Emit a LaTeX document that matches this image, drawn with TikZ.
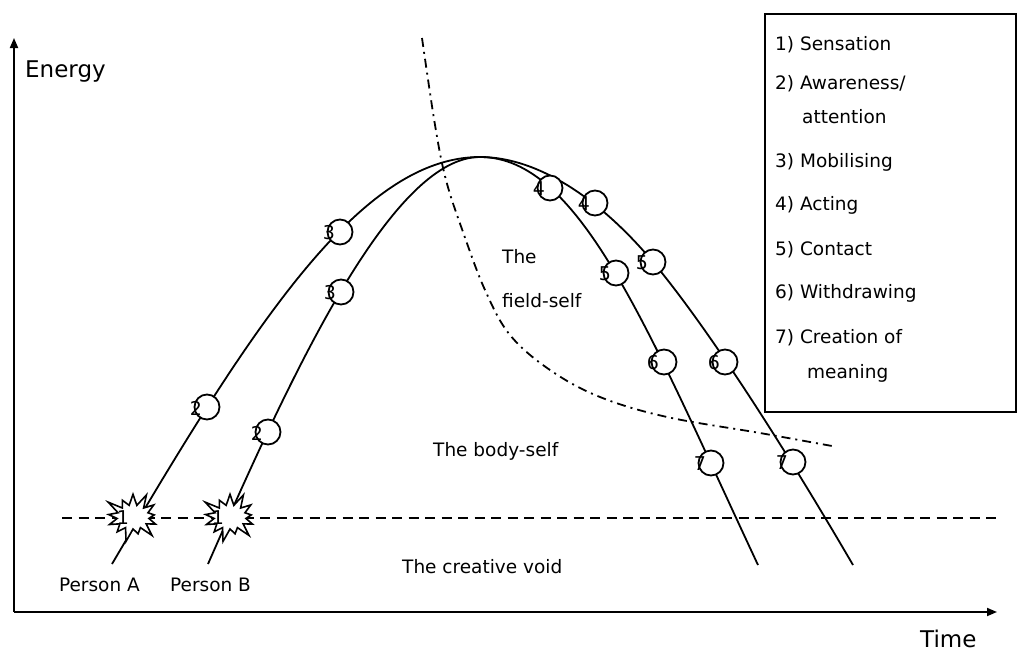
\documentclass[tikz,border=0pt]{standalone}
\usepackage{fontspec}
\setmainfont{DejaVu Sans}
\usetikzlibrary{shapes.symbols,arrows.meta}
\begin{document}
\begin{tikzpicture}[x=1pt,y=-1pt,
  lw/.style={line width=1.8pt},
  axis/.style={line width=1.8pt, -{Triangle[length=10pt,width=8pt]}},
  ring/.style={circle, draw, line width=1.8pt, fill=white, minimum size=25pt, inner sep=0pt},
  num/.style={font=\fontsize{19}{19}\selectfont, inner sep=0pt},
  txt/.style={font=\fontsize{18.5}{20}\selectfont, inner sep=0pt},
  big/.style={font=\fontsize{23}{25}\selectfont, inner sep=0pt},
  burst/.style={starburst, draw, fill=white, line width=1.6pt, starburst points=13,
    starburst point height=15pt, minimum width=62pt, minimum height=54pt, inner sep=0pt},
  dashline/.style={line width=2pt, dash pattern=on 10pt off 6.5pt},
  dashdotline/.style={line width=1.8pt, dash pattern=on 9pt off 5pt on 2pt off 5pt},
  legendbox/.style={draw, line width=1.8pt, minimum width=251pt, minimum height=398pt, inner sep=0pt}
]
\useasboundingbox (0,0) rectangle (1017,651);

% axes
\coordinate (O) at (14,612);
\coordinate (ytop) at (14,38);
\coordinate (xend) at (997,612);
\draw[axis] (O) -- (ytop);
\draw[axis] (O) -- (xend);
\node[big, anchor=base west] (energy) at (25,77) {Energy};
\node[big, anchor=base west] (time) at (920,647) {Time};

% dashed boundary
\coordinate (dl) at (62,518);
\coordinate (dr) at (1000,518);
\draw[dashline] (dl) -- (dr);

% dash-dot curve
\draw[dashdotline] plot[smooth, tension=0.6] coordinates {(422,38) (435,125) (446,180) (463,232) (485,290) (510,335) (550,370) (600,397) (667,417) (760,433) (832,446)};

% curves
\coordinate (peak) at (480,157);
\coordinate (a0) at (112,564);
\coordinate (a1) at (758,565);
\coordinate (b0) at (208,564);
\coordinate (bm) at (653,262);
\coordinate (b1) at (853,565);
% curve A (left outer, right inner)
\draw[lw] (a0) .. controls (252,326) and (360,157) .. (peak)
               .. controls (580,157) and (648,330) .. (a1);
% curve B (left inner, right outer)
\draw[lw] (b0) .. controls (288,382) and (390,157) .. (peak)
               .. controls (540,157) and (603,202) .. (bm)
               .. controls (713,334) and (793,462) .. (b1);

% starbursts
\node[burst] (sa) at (133,517) {};
\node[num] (sa1) at (123,518) {1};
\node[burst] (sb) at (230,517) {};
\node[num] (sb1) at (218,518) {1};

% circles
\foreach \n/\x/\y/\d in {a2/207/407/2, a3/340/232/3, b2/268/432/2, b3/341/292/3,
  i4/550/188/4, i5/616/273/5, i6/664/362/6, i7/711/463/7,
  o4/595/203/4, o5/653/262/5, o6/725/362/6, o7/793/462/7}{
  \node[ring] (c\n) at (\x,\y) {};
  \node[num] (d\n) at (\x-11,\y+1) {\d};
}

% region labels
\node[txt, anchor=base west] (the) at (502,263) {The};
\node[txt, anchor=base west] (field) at (502,307) {field-self};
\node[txt, anchor=base west] (body) at (433,456) {The body-self};
\node[txt, anchor=base west] (void) at (402,573) {The creative void};
\node[txt, anchor=base east] (pa) at (140,591) {Person A};
\node[txt, anchor=base west] (pb) at (170,591) {Person B};

% legend
\node[legendbox, anchor=north west] (legend) at (764,13) {};
\node[txt, anchor=base west] (l1) at (775,50) {1) Sensation};
\node[txt, anchor=base west] (l2) at (775,89) {2) Awareness/};
\node[txt, anchor=base west] (l2b) at (802,123) {attention};
\node[txt, anchor=base west] (l3) at (775,167) {3) Mobilising};
\node[txt, anchor=base west] (l4) at (775,210) {4) Acting};
\node[txt, anchor=base west] (l5) at (775,255) {5) Contact};
\node[txt, anchor=base west] (l6) at (775,298) {6) Withdrawing};
\node[txt, anchor=base west] (l7) at (775,343) {7) Creation of};
\node[txt, anchor=base west] (l7b) at (807,378) {meaning};
\end{tikzpicture}
\end{document}
